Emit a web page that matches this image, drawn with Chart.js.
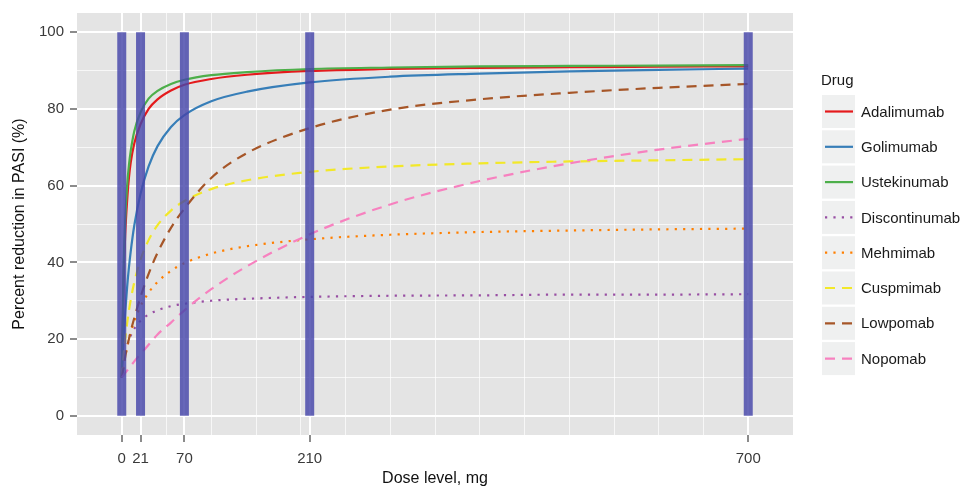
<!DOCTYPE html>
<html>
<head>
<meta charset="utf-8">
<script src="https://cdn.jsdelivr.net/npm/chart.js@4.4.1/dist/chart.umd.min.js"></script>
<style>
    body { margin: 0; background: #fff; }
    #wrap { width: 968px; height: 488px; }
</style>
</head>
<body>
<div id="wrap"><canvas id="doseChart" width="968" height="488"></canvas></div>
<script>
const doses = [0, 2, 4, 6, 8, 10, 14, 21, 30, 40, 55, 70, 100, 140, 210, 300, 400, 500, 600, 700];

const adalimumab    = [10, 35, 48, 56, 62, 66, 71, 76, 80, 82.5, 84.8, 86.3, 87.8, 88.9, 89.9, 90.4, 90.7, 90.9, 91.0, 91.1];
const golimumab     = [10, 19.7, 27.3, 33.5, 38.6, 42.8, 49.6, 57.9, 65, 70.3, 75.3, 78.4, 82, 84.5, 86.9, 88.4, 89.2, 89.8, 90.2, 90.5];
const ustekinumab   = [10, 38, 51.7, 60, 65.3, 69, 74.2, 79.1, 82.7, 84.7, 86.5, 87.6, 88.8, 89.6, 90.4, 90.8, 91.1, 91.2, 91.3, 91.4];
const discontinumab = [10, 13.6, 16.2, 18.1, 19.7, 20.9, 22.7, 24.8, 26.4, 27.5, 28.6, 29.2, 30.0, 30.5, 31.0, 31.3, 31.4, 31.6, 31.6, 31.7];
const mehmimab      = [10, 13, 15.6, 17.9, 19.9, 21.7, 24.6, 28.6, 32.1, 34.9, 37.8, 39.8, 42.3, 44.2, 46.0, 47.2, 47.9, 48.3, 48.6, 48.8];
const cuspmimab     = [10, 15.6, 20.2, 24.1, 27.4, 30.2, 34.8, 40.7, 45.8, 49.7, 53.5, 56.0, 59.1, 61.4, 63.6, 65.0, 65.8, 66.3, 66.6, 66.9];
const lowpomab      = [10, 12.5, 15.5, 18, 20, 22, 25.5, 31, 37, 42.5, 49, 54, 62, 68.5, 75, 79.8, 82.5, 84.2, 85.5, 86.5];
const nopomab       = [10, 10.6, 11.2, 11.8, 12.4, 13, 14.2, 16.1, 18.5, 21.2, 24.3, 27.5, 33, 39, 47.3, 55.1, 61.2, 65.8, 69.4, 72.2];

const drugNames  = ["Adalimumab", "Golimumab", "Ustekinumab", "Discontinumab", "Mehmimab", "Cuspmimab", "Lowpomab", "Nopomab"];
const drugValues = [adalimumab, golimumab, ustekinumab, discontinumab, mehmimab, cuspmimab, lowpomab, nopomab];
const drugColors = ["#e41a1c", "#377eb8", "#4daf4a", "#984ea3", "#ff7f00", "#f2e829", "#a65628", "#f781bf"];
const drugLines  = ["solid", "solid", "solid", "dotted", "dotted", "dashed", "dashed", "dashed"];

// studied dose levels (vertical bars) and axis ticks
const barDoses = [0, 21, 70, 210, 700];
const barRange = [0, 100];
const xMajor = [0, 21, 70, 210, 700];
const xMinor = [50, 100, 150, 200, 250, 300, 350, 400, 450, 500, 550, 600, 650];
const yMajor = [0, 20, 40, 60, 80, 100];
const yMinor = [10, 30, 50, 70, 90];

const dashFor = {
    solid: [],
    dotted: [2.2, 6.2],
    dashed: [10, 7]
};

// build datasets
const curveSets = drugNames.map((name, i) => ({
    label: name,
    data: doses.map((d, j) => ({ x: d, y: drugValues[i][j] })),
    borderColor: drugColors[i],
    borderWidth: 2.2,
    borderDash: dashFor[drugLines[i]],
    borderCapStyle: 'butt',
    cubicInterpolationMode: 'monotone',
    pointRadius: 0,
    fill: false,
    order: drugNames.length - i
}));

const barSets = barDoses.map(d => ({
    label: "dose " + d,
    data: barRange.map(v => ({ x: d, y: v })),
    borderColor: 'rgba(70, 70, 170, 0.82)',
    borderWidth: 9,
    borderCapStyle: 'butt',
    pointRadius: 0,
    fill: false,
    order: 0
}));

// grey panel behind the plot
const panelBackground = {
    id: 'panelBackground',
    beforeDraw(chart) {
        const { ctx, chartArea } = chart;
        ctx.save();
        ctx.fillStyle = '#e4e4e4';
        ctx.fillRect(chartArea.left, chartArea.top, chartArea.right - chartArea.left, chartArea.bottom - chartArea.top);
        ctx.restore();
    }
};

// ggplot-like legend with line keys
const drugLegend = {
    id: 'drugLegend',
    afterDraw(chart) {
        const ctx = chart.ctx;
        const x0 = 822, top0 = 95, rowH = 35.3, box = 33;
        ctx.save();
        ctx.font = '15px "Liberation Sans", Arial, sans-serif';
        ctx.fillStyle = '#1a1a1a';
        ctx.textBaseline = 'middle';
        ctx.fillText('Drug', 821, 81);
        drugNames.forEach((name, i) => {
            const y = top0 + i * rowH;
            ctx.fillStyle = '#eff0f0';
            ctx.fillRect(x0, y, box, box);
            ctx.strokeStyle = drugColors[i];
            ctx.lineWidth = 2.2;
            ctx.lineCap = 'butt';
            ctx.setLineDash(dashFor[drugLines[i]]);
            ctx.beginPath();
            ctx.moveTo(x0 + 3, y + box / 2);
            ctx.lineTo(x0 + box - 2, y + box / 2);
            ctx.stroke();
            ctx.setLineDash([]);
            ctx.fillStyle = '#1a1a1a';
            ctx.fillText(name, 861, y + box / 2 + 1);
        });
        ctx.restore();
    }
};

const tickFont = { family: '"Liberation Sans", Arial, sans-serif', size: 15, lineHeight: 0.9 };
const titleFont = { family: '"Liberation Sans", Arial, sans-serif', size: 16 };

new Chart(document.getElementById('doseChart'), {
    type: 'line',
    data: { datasets: curveSets.concat(barSets) },
    options: {
        responsive: false,
        animation: false,
        devicePixelRatio: 1,
        layout: { padding: { top: 13, right: 175, left: 0, bottom: 0 } },
        plugins: {
            legend: { display: false },
            tooltip: { enabled: false }
        },
        scales: {
            x: {
                type: 'linear',
                min: -50,
                max: 750,
                afterBuildTicks: s => { s.ticks = xMajor.concat(xMinor).sort((a, b) => a - b).map(v => ({ value: v })); },
                afterFit: s => { s.height = 53; },
                border: { display: false },
                grid: {
                    color: c => xMajor.includes(c.tick.value) ? '#ffffff' : 'rgba(255,255,255,0.7)',
                    lineWidth: c => xMajor.includes(c.tick.value) ? 2 : 1,
                    tickColor: c => xMajor.includes(c.tick.value) ? '#4d4d4d' : 'rgba(0,0,0,0)',
                    tickWidth: 1.3,
                    tickLength: 7
                },
                ticks: {
                    autoSkip: false,
                    maxRotation: 0,
                    padding: 10,
                    color: '#3a3a3a',
                    font: tickFont,
                    callback: v => xMajor.includes(v) ? String(v) : ''
                },
                title: {
                    display: true,
                    text: 'Dose level, mg',
                    color: '#111',
                    font: titleFont,
                    padding: { top: 0, bottom: 0 }
                }
            },
            y: {
                type: 'linear',
                min: -5,
                max: 105,
                afterBuildTicks: s => { s.ticks = yMajor.concat(yMinor).sort((a, b) => a - b).map(v => ({ value: v })); },
                afterFit: s => { s.width = 77; },
                border: { display: false },
                grid: {
                    color: c => yMajor.includes(c.tick.value) ? '#ffffff' : 'rgba(255,255,255,0.7)',
                    lineWidth: c => yMajor.includes(c.tick.value) ? 2 : 1,
                    tickColor: c => yMajor.includes(c.tick.value) ? '#4d4d4d' : 'rgba(0,0,0,0)',
                    tickWidth: 1.3,
                    tickLength: 7
                },
                ticks: {
                    autoSkip: false,
                    padding: 6,
                    color: '#3a3a3a',
                    font: tickFont,
                    callback: v => yMajor.includes(v) ? String(v) : ''
                },
                title: {
                    display: true,
                    text: 'Percent reduction in PASI (%)',
                    color: '#111',
                    font: titleFont,
                    padding: { top: 10, bottom: 0 }
                }
            }
        }
    },
    plugins: [panelBackground, drugLegend]
});
</script>
</body>
</html>
